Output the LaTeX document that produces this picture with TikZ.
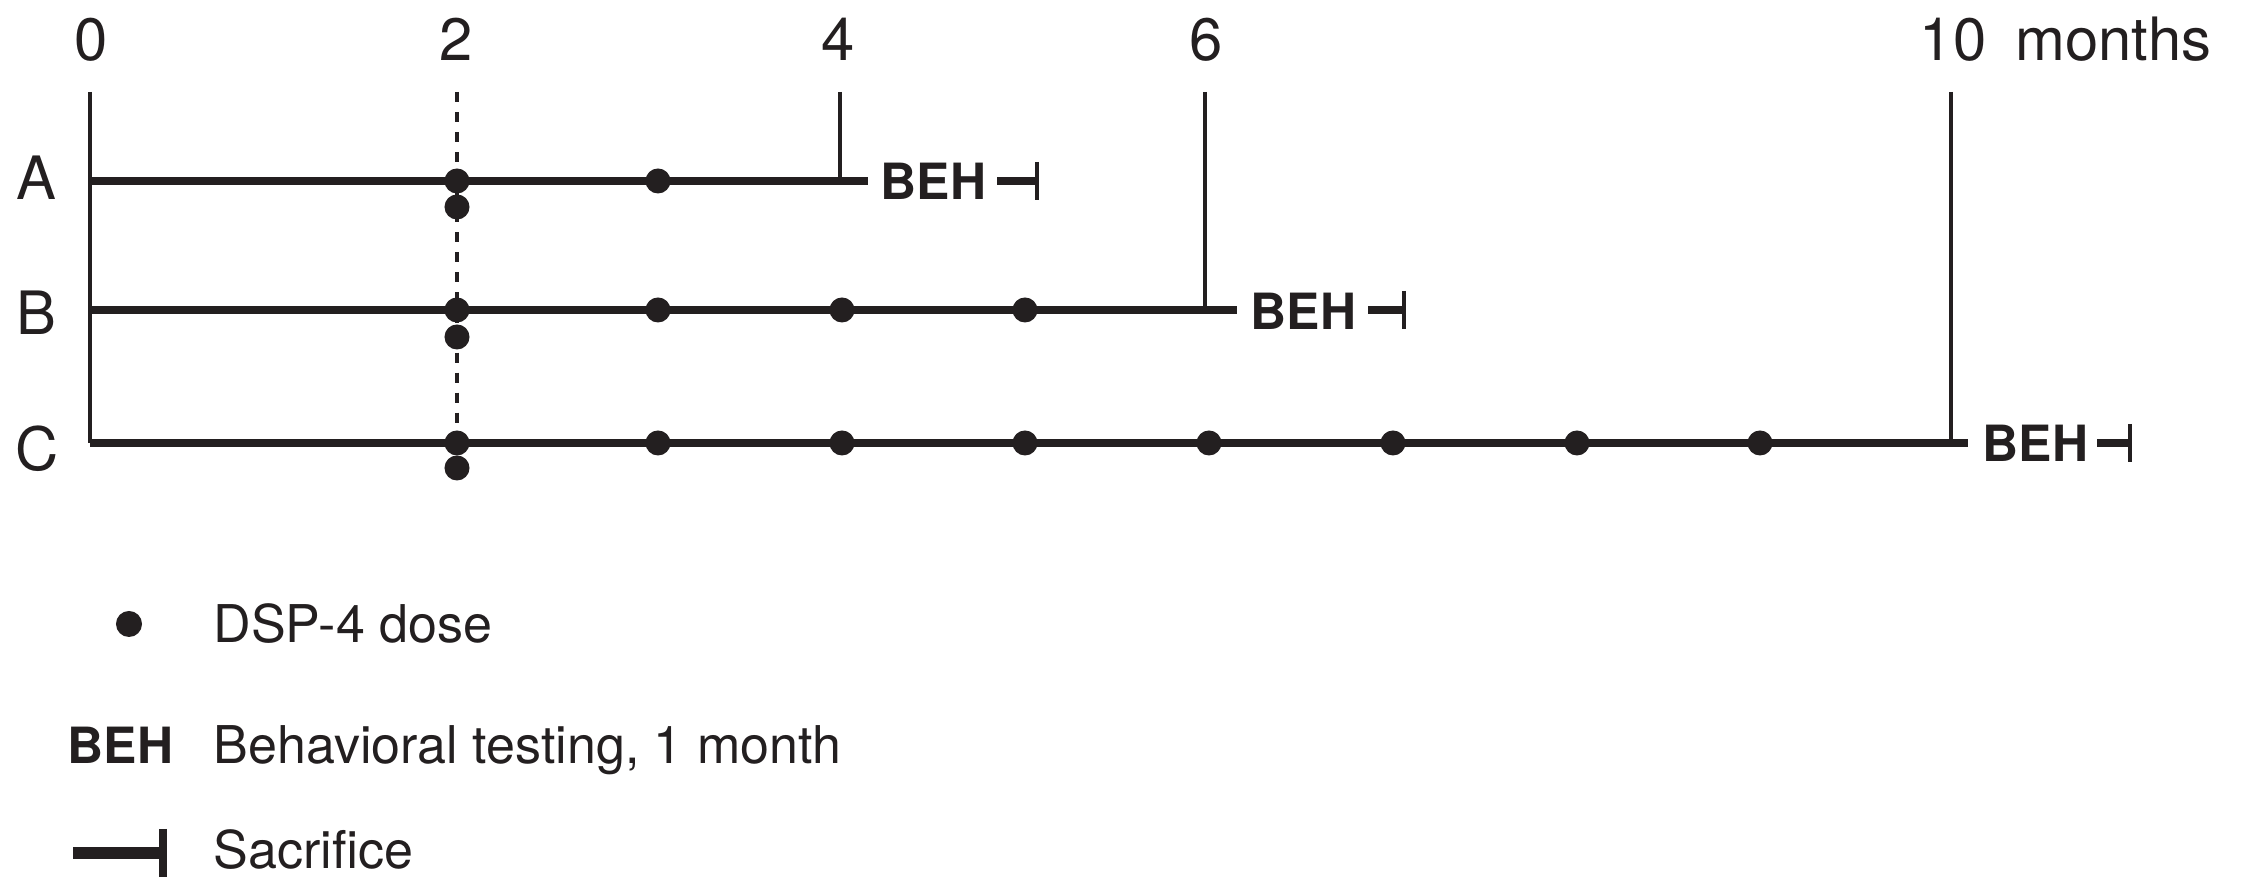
\documentclass[tikz,border=0pt]{standalone}
\usepackage{fontspec}
\setmainfont{TeX Gyre Heros}
\usetikzlibrary{calc}

\definecolor{tinta}{RGB}{35,31,32}

\begin{document}
\begin{tikzpicture}[
    x={(0.01cm,0cm)},
    y={(0cm,-0.01cm)},
    color=tinta,
    line cap=butt,
    every node/.style={inner sep=0pt, font=\fontsize{17}{20}\selectfont},
    fila/.style={line width=2.2pt},
    marca/.style={line width=1.15pt},
    guia/.style={line width=1.15pt, dash pattern=on 2.85pt off 2.85pt},
    corte/.style={line width=1.4pt},
    dosis/.style={circle, fill=tinta, minimum size=0.25cm},
    beh/.style={anchor=base west, font=\fontsize{14.2}{17}\selectfont\bfseries},
    leyenda/.style={anchor=base west, font=\fontsize{14.8}{17}\selectfont}
]

\useasboundingbox (0,0) rectangle (2250,877);

\coordinate (O)   at (90,92);
\coordinate (T2)  at (457,92);
\coordinate (T4)  at (840,92);
\coordinate (T6)  at (1205,92);
\coordinate (T10) at (1951,92);

\coordinate (A0) at (90,181);
\coordinate (A1) at (868,181);
\coordinate (B0) at (90,310);
\coordinate (B1) at (1237,310);
\coordinate (C0) at (90,443);
\coordinate (C1) at (1968,443);

% escala de meses
\node[anchor=base] (t0)  at (91,61)   {0};
\node[anchor=base] (t2)  at (456,61)  {2};
\node[anchor=base] (t4)  at (838,61)  {4};
\node[anchor=base] (t6)  at (1206,61) {6};
\node[anchor=base] (t10) at (1953,61) {10};
\node[anchor=base west] (meses) at ($(t10.base east)+(28,0)$) {months};

% grupos
\node[anchor=base] (gA) at (36,200) {A};
\node[anchor=base] (gB) at (36,335) {B};
\node[anchor=base] (gC) at (37,471) {C};

\draw[marca] (O) -- (C0);
\draw[guia] (T2) -- (T2 |- C0);
\draw[marca] (T4) -- (T4 |- A0);
\draw[marca] (T6) -- (T6 |- B0);
\draw[marca] (T10) -- (T10 |- C0);

\draw[fila] (A0) -- (A1);
\draw[fila] (B0) -- (B1);
\draw[fila] (C0) -- (C1);

% dosis
\node[dosis] (dA1) at (457,181) {};
\node[dosis] (dA0) at (457,207) {};
\node[dosis] (dA2) at (658,181) {};

\node[dosis] (dB1) at (457,310) {};
\node[dosis] (dB0) at (457,337) {};
\node[dosis] (dB2) at (658,310) {};
\node[dosis] (dB3) at (842,310) {};
\node[dosis] (dB4) at (1025,310) {};

\node[dosis] (dC1) at (457,443) {};
\node[dosis] (dC0) at (457,468) {};
\node[dosis] (dC2) at (658,443) {};
\node[dosis] (dC3) at (842,443) {};
\node[dosis] (dC4) at (1025,443) {};
\node[dosis] (dC5) at (1209,443) {};
\node[dosis] (dC6) at (1393,443) {};
\node[dosis] (dC7) at (1577,443) {};
\node[dosis] (dC8) at (1760,443) {};

% BEH y sacrificio
\node[beh] (bA) at (880,200)  {BEH};
\node[beh] (bB) at (1250,330) {BEH};
\node[beh] (bC) at (1982,462) {BEH};

\coordinate (sA) at (1037,181);
\coordinate (sB) at (1404,310);
\coordinate (sC) at (2130,443);

\draw[fila] (997,181) -- (sA);
\draw[corte] ($(sA)+(0,-19)$) -- ($(sA)+(0,19)$);
\draw[fila] (1368,310) -- (sB);
\draw[corte] ($(sB)+(0,-19)$) -- ($(sB)+(0,19)$);
\draw[fila] (2097,443) -- (sC);
\draw[corte] ($(sC)+(0,-19)$) -- ($(sC)+(0,19)$);

% leyenda
\node[dosis, minimum size=0.26cm] (dL) at (129,624) {};
\node[leyenda] (lDosis) at (213,643) {DSP-4 dose};

\node[beh] (bL) at (67,764) {BEH};
\node[leyenda] (lBeh) at (213,764) {Behavioral testing, 1 month};

\coordinate (sL) at (163,853);
\draw[line width=3.4pt] (73,853) -- (sL);
\draw[line width=2.3pt] ($(sL)+(0,-24)$) -- ($(sL)+(0,24)$);
\node[leyenda] (lSac) at (213,869) {Sacrifice};

\end{tikzpicture}
\end{document}
